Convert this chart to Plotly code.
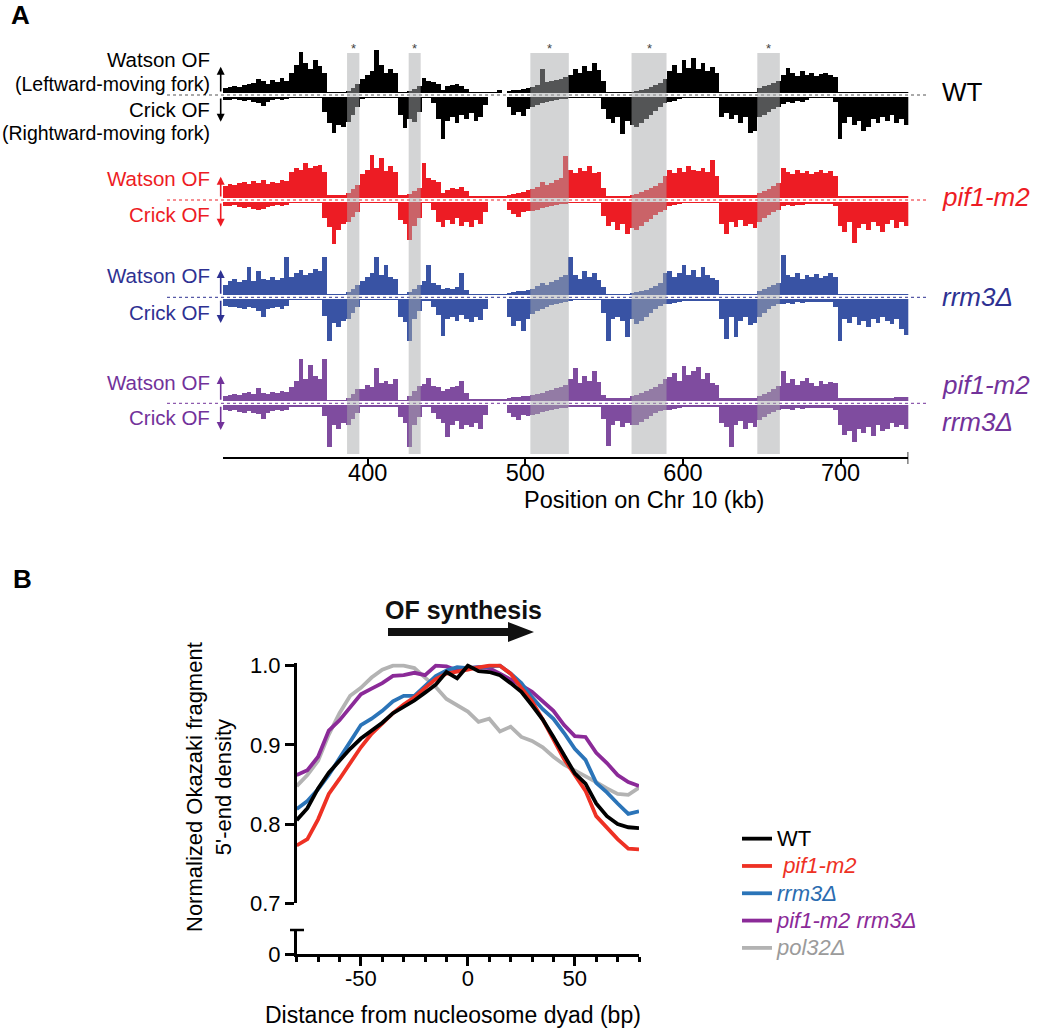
import plotly.graph_objects as go

FIG_W, FIG_H = 1050, 1029
FONT = "Liberation Sans, Arial, Helvetica, sans-serif"


def px(x):
    return x / FIG_W


def py(y):
    return 1 - y / FIG_H


# ---------------- Panel A data (Okazaki fragment density, 3-kb bins from 308 kb) ----------------
bin_start_kb = 308
bin_width_kb = 3

wt_watson = [5, 6, 7, 6, 8, 9, 10, 14, 12, 9, 13, 11, 15, 12,
             20, 28, 41, 30, 24, 33, 27, 20,
             1, 1, 1, 1,
             2, 5, 9,
             14, 18, 22, 43, 28, 20, 24, 20,
             1, 1, 2, 4, 7,
             15, 12, 11, 9, 3, 7, 8, 9, 7, 4, 1, 1, 1, 1,
             1, 1, 3, 0,
             2, 3, 3, 4, 5,
             6, 8, 24, 11, 12, 13, 14, 16,
             18, 24, 20, 27, 22, 30, 23,
             12, 1, 1, 1, 1, 1, 1,
             2, 3, 4, 6, 8, 10, 14,
             22, 28, 20, 33, 25, 35, 24, 30, 22, 26, 20,
             1, 1, 1, 1, 1, 1, 1, 1,
             5, 7, 8, 10, 12,
             18, 25, 20, 17, 22, 18, 20, 17, 19, 20, 18, 16,
             1, 1, 1, 1, 1, 1, 1, 1, 1, 1, 1, 1, 1, 1, 1]
wt_crick = [3, 3, 2, 3, 4, 3, 5, 6, 9, 5, 3, 2, 3, 2,
            1, 1, 1, 1, 1, 1, 1, 15,
            26, 36, 28, 30,
            25, 18, 10,
            2, 1, 1, 1, 1, 1, 1, 1,
            18, 31, 22, 25, 15,
            1, 1, 6, 22, 42, 24, 20, 26, 18, 22, 16, 24, 20, 8,
            0, 0, 0, 0,
            10, 18, 15, 19, 12,
            10, 8, 6, 5, 4, 3, 2, 2,
            1, 1, 1, 1, 1, 1, 1,
            12, 22, 26, 20, 37, 24, 28,
            30, 26, 22, 18, 14, 10, 6,
            5, 4, 2, 1, 1, 1, 1, 1, 1, 1, 1,
            20, 16, 22, 18, 26, 20, 36, 34,
            20, 18, 15, 12, 10,
            7, 5, 6, 4, 5, 3, 1, 1, 1, 1, 1, 5,
            42, 26, 20, 28, 24, 34, 30, 22, 26, 20, 24, 18, 26, 22, 28]

pif1_watson = [12, 14, 13, 15, 16, 14, 17, 15, 18, 14, 16, 15, 18, 17,
               26, 30, 28, 35, 30, 32, 33, 26,
               3, 3, 3, 3,
               5, 9, 13,
               24, 28, 43, 30, 40, 27, 32, 26,
               3, 3, 4, 7, 10,
               35, 20, 18, 16, 5, 8, 10, 9, 11, 7, 2, 2, 2, 2,
               2, 2, 2, 2,
               3, 4, 5, 6, 8,
               9, 11, 16, 13, 15, 18, 20, 42,
               28, 25, 30, 27, 32, 25, 26,
               10, 2, 2, 2, 2, 2, 3,
               4, 6, 8, 10, 12, 15, 22,
               28, 25, 30, 26, 32, 28, 27, 30, 26, 38, 22,
               3, 3, 3, 3, 3, 3, 3, 3,
               5, 7, 9, 12, 15,
               30, 26, 24, 28, 25, 27, 24, 26, 28, 25, 27, 22,
               2, 2, 2, 2, 2, 2, 2, 2, 2, 2, 2, 2, 2, 2, 2]
pif1_crick = [4, 4, 3, 5, 6, 5, 7, 8, 7, 5, 4, 3, 4, 3,
              1, 1, 1, 1, 1, 1, 1, 16,
              25, 42, 28, 22,
              20, 15, 10,
              1, 1, 1, 1, 1, 1, 1, 1,
              18, 22, 38, 24, 16,
              1, 1, 8, 20, 25, 18, 22, 16, 24, 20, 25, 18, 22, 10,
              0, 0, 0, 0,
              8, 12, 15, 10, 9,
              9, 8, 6, 5, 4, 3, 2, 2,
              1, 1, 1, 1, 1, 1, 1,
              14, 24, 20, 28, 22, 32, 26,
              28, 24, 20, 17, 13, 10, 8,
              4, 3, 2, 1, 1, 1, 1, 1, 1, 1, 1,
              22, 32, 20, 25, 18, 24, 22, 26,
              20, 16, 13, 10, 8,
              4, 3, 4, 3, 3, 2, 2, 2, 2, 2, 2, 4,
              24, 30, 20, 41, 26, 22, 28, 20, 24, 30, 22, 18, 26, 20, 24]

rrm3_watson = [10, 14, 16, 13, 15, 28, 14, 24, 16, 15, 18, 15, 17, 38,
               18, 22, 25, 20, 22, 26, 24, 38,
               1, 1, 1, 1,
               3, 6, 10,
               14, 18, 22, 38, 20, 30, 18, 16,
               1, 1, 3, 6, 10,
               14, 30, 12, 10, 6, 7, 6, 8, 22, 5, 1, 1, 1, 1,
               1, 1, 1, 1,
               2, 3, 4, 4, 5,
               6, 9, 12, 10, 13, 15, 18, 20,
               38, 20, 16, 24, 18, 22, 15,
               8, 1, 1, 1, 1, 1, 2,
               3, 4, 5, 7, 9, 12, 22,
               24, 18, 22, 30, 20, 25, 18, 28, 20, 17, 15,
               1, 1, 1, 1, 1, 1, 1, 1,
               4, 6, 8, 10, 12,
               40, 20, 18, 22, 16, 20, 18, 21, 17, 19, 22, 18,
               1, 1, 1, 1, 1, 1, 1, 1, 1, 1, 1, 1, 1, 1, 1]
rrm3_crick = [7, 8, 8, 9, 10, 8, 9, 12, 18, 10, 9, 8, 10, 7,
              1, 1, 1, 1, 1, 1, 1, 17,
              42, 24, 28, 22,
              20, 14, 8,
              1, 1, 1, 1, 1, 1, 1, 1,
              18, 23, 42, 20, 12,
              2, 2, 8, 16, 37, 20, 18, 22, 16, 20, 23, 18, 21, 10,
              0, 0, 0, 0,
              18, 27, 22, 32, 20,
              15, 12, 10, 8, 6, 5, 4, 3,
              2, 1, 1, 1, 1, 1, 1,
              14, 42, 20, 18, 22, 38, 20,
              25, 22, 18, 14, 10, 7, 5,
              5, 4, 3, 2, 2, 2, 2, 2, 2, 2, 2,
              20, 40, 18, 38, 22, 18, 26, 24,
              18, 14, 10, 7, 5,
              5, 4, 5, 3, 4, 3, 3, 3, 3, 3, 3, 8,
              42, 20, 24, 18, 26, 22, 28, 20, 24, 18, 22, 25, 20, 30, 36]

double_watson = [5, 6, 7, 6, 8, 9, 7, 13, 8, 7, 9, 8, 10, 9,
                 14, 20, 42, 22, 36, 25, 22, 42,
                 1, 1, 1, 1,
                 3, 7, 12,
                 12, 16, 14, 33, 18, 20, 17, 22,
                 1, 1, 5, 10, 15,
                 17, 23, 15, 14, 10, 12, 14, 15, 20, 8, 2, 2, 2, 2,
                 2, 2, 2, 2,
                 3, 4, 4, 5, 5,
                 6, 7, 8, 10, 11, 13, 14, 16,
                 22, 33, 18, 25, 20, 30, 19,
                 6, 3, 3, 3, 3, 3, 5,
                 6, 8, 10, 12, 14, 17, 22,
                 24, 28, 20, 35, 26, 30, 34, 22, 28, 18, 16,
                 3, 3, 3, 3, 3, 3, 3, 3,
                 5, 7, 9, 12, 15,
                 30, 18, 22, 16, 20, 23, 18, 15, 20, 17, 19, 18,
                 3, 3, 3, 3, 3, 3, 3, 3, 3, 3, 3, 3, 4, 4, 4]
double_crick = [5, 6, 5, 7, 8, 6, 8, 9, 14, 8, 6, 5, 6, 5,
                2, 2, 2, 2, 2, 2, 2, 11,
                42, 20, 24, 18,
                20, 14, 8,
                2, 2, 2, 2, 2, 2, 2, 2,
                12, 18, 42, 20, 12,
                2, 2, 8, 14, 18, 32, 20, 16, 24, 20, 22, 18, 24, 10,
                0, 0, 0, 0,
                8, 12, 15, 10, 11,
                10, 9, 7, 6, 5, 4, 3, 3,
                2, 2, 2, 2, 2, 2, 2,
                14, 41, 20, 16, 22, 18, 20,
                20, 17, 14, 11, 8, 6, 5,
                5, 4, 3, 2, 2, 2, 2, 2, 2, 2, 2,
                18, 22, 42, 20, 16, 24, 18, 22,
                15, 12, 9, 7, 5,
                4, 4, 5, 3, 4, 3, 3, 3, 3, 3, 3, 5,
                20, 30, 26, 37, 24, 28, 22, 31, 20, 26, 24, 18, 22, 20, 24]

highlight_bands_kb = [(386.9, 394.7), (426.0, 433.6), (503.2, 527.6), (567.4, 589.6), (647.2, 661.5)]
chr_ticks_kb = [400, 500, 600, 700]

# ---------------- Panel B data ----------------
distance_bp = [-80, -75, -70, -65, -60, -55, -50, -45, -40, -35, -30, -25, -20, -15, -10, -5, 0,
               5, 10, 15, 20, 25, 30, 35, 40, 45, 50, 55, 60, 65, 70, 75, 80]
dens_wt = [0.805, 0.820, 0.845, 0.865, 0.880, 0.895, 0.908, 0.918, 0.928, 0.940, 0.948, 0.956, 0.966,
           0.976, 0.992, 0.984, 1.000, 0.993, 0.992, 0.988, 0.978, 0.967, 0.950, 0.932, 0.910, 0.886,
           0.864, 0.851, 0.826, 0.810, 0.800, 0.796, 0.795]
dens_pif1 = [0.773, 0.781, 0.806, 0.838, 0.857, 0.878, 0.897, 0.914, 0.927, 0.940, 0.951, 0.960, 0.972,
             0.983, 0.990, 0.992, 0.995, 0.998, 1.000, 1.000, 0.990, 0.972, 0.955, 0.932, 0.908, 0.882,
             0.862, 0.842, 0.810, 0.795, 0.781, 0.769, 0.768]
dens_rrm3 = [0.819, 0.829, 0.844, 0.862, 0.883, 0.905, 0.925, 0.933, 0.943, 0.955, 0.962, 0.962, 0.975,
             0.987, 0.994, 0.998, 0.997, 0.998, 1.000, 1.000, 0.990, 0.978, 0.960, 0.945, 0.933, 0.915,
             0.895, 0.881, 0.852, 0.840, 0.826, 0.813, 0.816]
dens_double = [0.862, 0.868, 0.885, 0.918, 0.931, 0.948, 0.964, 0.971, 0.978, 0.987, 0.988, 0.991, 0.988,
               1.000, 0.999, 0.994, 0.997, 0.998, 0.997, 0.990, 0.983, 0.975, 0.967, 0.955, 0.943, 0.925,
               0.911, 0.910, 0.890, 0.877, 0.862, 0.853, 0.848]
dens_pol32 = [0.848, 0.862, 0.880, 0.913, 0.940, 0.962, 0.972, 0.985, 0.995, 1.000, 1.000, 0.997, 0.985,
              0.973, 0.958, 0.950, 0.942, 0.929, 0.933, 0.917, 0.923, 0.910, 0.905, 0.897, 0.885, 0.875,
              0.868, 0.860, 0.853, 0.845, 0.838, 0.837, 0.846]
dyad_ticks_bp = [-50, 0, 50]
dyad_minor_bp = [-80, -70, -60, -40, -30, -20, -10, 10, 20, 30, 40, 60, 70, 80]

# ---------------- Build figure ----------------
fig = go.Figure()

tracks = [
    dict(watson=wt_watson, crick=wt_crick, color="#000000", text="#000000", base_px=95.0,
         dot="#555555", arrow=(66.7, 121.7)),
    dict(watson=pif1_watson, crick=pif1_crick, color="#ed1c24", text="#ed1c24", base_px=200.0,
         dot="#ed1c24", arrow=(176.7, 226.7)),
    dict(watson=rrm3_watson, crick=rrm3_crick, color="#3953a4", text="#2e3192", base_px=297.3,
         dot="#2e3192", arrow=(270.0, 323.0)),
    dict(watson=double_watson, crick=double_crick, color="#7f4c9f", text="#72329a", base_px=403.3,
         dot="#72329a", arrow=(376.0, 430.0)),
]

HALF = 48
GAP = 2
n_bins = max(len(t["watson"]) for t in tracks)
x_end = bin_start_kb + bin_width_kb * n_bins

layout_axes = {}
shapes = []
annotations = []

for k, t in enumerate(tracks):
    yname = "y" if k == 0 else f"y{k + 1}"
    ykey = "yaxis" if k == 0 else f"yaxis{k + 1}"
    w = t["watson"]
    c = t["crick"]
    xw = [bin_start_kb + bin_width_kb * (i + 0.5) for i in range(len(w))]
    xc = [bin_start_kb + bin_width_kb * (i + 0.5) for i in range(len(c))]
    fig.add_trace(go.Bar(x=xw, y=w, base=GAP, width=bin_width_kb, marker_color=t["color"],
                         marker_line_width=0, xaxis="x", yaxis=yname, showlegend=False,
                         hoverinfo="skip"))
    fig.add_trace(go.Bar(x=xc, y=[-v for v in c], base=-GAP, width=bin_width_kb,
                         marker_color=t["color"], marker_line_width=0, xaxis="x", yaxis=yname,
                         showlegend=False, hoverinfo="skip"))
    b = t["base_px"]
    layout_axes[ykey] = dict(domain=[py(b + HALF), py(b - HALF)], range=[-HALF, HALF],
                             visible=False, anchor="x", fixedrange=True)
    shapes.append(dict(type="line", xref="paper", yref=yname, x0=px(167), x1=px(926), y0=0, y1=0,
                       line=dict(color=t["dot"], width=1, dash="dot")))
    up, down = t["arrow"]
    annotations.append(dict(xref="paper", yref="paper", x=px(220.7), y=py(up), ax=0,
                            ay=(b - 2) - up, text="", showarrow=True, arrowhead=2,
                            arrowsize=1.0, arrowwidth=1.6, arrowcolor=t["text"]))
    annotations.append(dict(xref="paper", yref="paper", x=px(220.7), y=py(down), ax=0,
                            ay=(b + 2) - down, text="", showarrow=True, arrowhead=2,
                            arrowsize=1.0, arrowwidth=1.6, arrowcolor=t["text"]))

left_labels = [
    ("Watson OF", 60, "#000000", 20.5), ("(Leftward-moving fork)", 84, "#000000", 19.5),
    ("Crick OF", 109, "#000000", 20.5), ("(Rightward-moving fork)", 133, "#000000", 19.5),
    ("Watson OF", 178, "#ed1c24", 20.5), ("Crick OF", 215, "#ed1c24", 20.5),
    ("Watson OF", 275, "#2e3192", 20.5), ("Crick OF", 312, "#2e3192", 20.5),
    ("Watson OF", 382, "#72329a", 20.5), ("Crick OF", 418, "#72329a", 20.5),
]
for txt, yy, col, fs in left_labels:
    annotations.append(dict(xref="paper", yref="paper", x=px(212), y=py(yy), text=txt,
                            showarrow=False, xanchor="right", yanchor="middle",
                            font=dict(family=FONT, size=fs, color=col)))

right_labels = [
    ("WT", 92, "#000000"), ("<i>pif1-m2</i>", 197, "#ed1c24"),
    ("<i>rrm3Δ</i>", 297, "#2e3192"), ("<i>pif1-m2</i>", 385, "#72329a"),
    ("<i>rrm3Δ</i>", 422, "#72329a"),
]
for txt, yy, col in right_labels:
    annotations.append(dict(xref="paper", yref="paper", x=px(940), y=py(yy), text=txt,
                            showarrow=False, xanchor="left", yanchor="middle",
                            font=dict(family=FONT, size=26, color=col)))

for x0, x1 in highlight_bands_kb:
    shapes.append(dict(type="rect", xref="x", yref="paper", x0=x0, x1=x1, y0=py(454), y1=py(53),
                       fillcolor="rgb(168,170,172)", opacity=0.5, line=dict(width=0),
                       layer="above"))
    annotations.append(dict(xref="x", yref="paper", x=(x0 + x1) / 2, y=py(48), text="*",
                            showarrow=False, xanchor="center", yanchor="middle",
                            font=dict(family=FONT, size=13, color="#444444")))

shapes.append(dict(type="line", xref="x", yref="paper", x0=x_end, x1=x_end, y0=py(464), y1=py(452),
                   line=dict(color="black", width=1.5)))

annotations += [
    dict(xref="paper", yref="paper", x=px(20), y=py(15), text="<b>A</b>", showarrow=False,
         xanchor="center", yanchor="middle", font=dict(family=FONT, size=26, color="black")),
    dict(xref="paper", yref="paper", x=px(22), y=py(579), text="<b>B</b>", showarrow=False,
         xanchor="center", yanchor="middle", font=dict(family=FONT, size=26, color="black")),
    dict(xref="paper", yref="paper", x=px(644), y=py(500), text="Position on Chr 10 (kb)",
         showarrow=False, xanchor="center", yanchor="middle",
         font=dict(family=FONT, size=23.5, color="black")),
    dict(xref="paper", yref="paper", x=px(463), y=py(610), text="<b>OF synthesis</b>",
         showarrow=False, xanchor="center", yanchor="middle",
         font=dict(family=FONT, size=25, color="#111111")),
    dict(xref="paper", yref="paper", x=px(209), y=py(787),
         text="Normalized Okazaki fragment<br>5'-end density", textangle=-90,
         showarrow=False, xanchor="center", yanchor="middle",
         font=dict(family=FONT, size=22, color="black")),
    dict(xref="paper", yref="paper", x=px(453), y=py(1015),
         text="Distance from nucleosome dyad (bp)", showarrow=False, xanchor="center",
         yanchor="middle", font=dict(family=FONT, size=23, color="black")),
]

arrow_path = (f"M {px(388)},{py(628)} L {px(508)},{py(628)} L {px(508)},{py(622)} "
              f"L {px(534)},{py(632)} L {px(508)},{py(642)} L {px(508)},{py(636)} "
              f"L {px(388)},{py(636)} Z")
shapes.append(dict(type="path", xref="paper", yref="paper", path=arrow_path,
                   fillcolor="#111111", line=dict(width=0)))

shapes.append(dict(type="line", xref="paper", yref="paper", x0=px(290), x1=px(304),
                   y0=py(930), y1=py(930), line=dict(color="black", width=2.5)))

LEG = "font-size:22px;"
series_b = [
    (f"<span style='{LEG}color:#9b9b9b'><i>pol32Δ</i></span>", dens_pol32, "#b3b3b3", 5),
    (f"<span style='{LEG}color:#8b2a98'><i>pif1-m2 rrm3Δ</i></span>", dens_double, "#8b2a98", 4),
    (f"<span style='{LEG}color:#2b6cb0'><i>rrm3Δ</i></span>", dens_rrm3, "#2b74b8", 3),
    (f"<span style='{LEG}color:#ee3124'> <i>pif1-m2</i></span>", dens_pif1, "#ee3124", 2),
    (f"<span style='{LEG}color:#000000'>WT</span>", dens_wt, "#000000", 1),
]
for name, vals, col, rank in series_b:
    fig.add_trace(go.Scatter(x=distance_bp, y=vals, mode="lines", name=name,
                             line=dict(color=col, width=3.8), xaxis="x2", yaxis="y5",
                             legendrank=rank, hoverinfo="skip"))
fig.add_trace(go.Scatter(x=[], y=[], xaxis="x2", yaxis="y6", showlegend=False))

fig.update_layout(
    width=FIG_W, height=FIG_H, template="none",
    paper_bgcolor="white", plot_bgcolor="rgba(0,0,0,0)",
    margin=dict(l=0, r=0, t=0, b=0),
    barmode="overlay", bargap=0,
    font=dict(family=FONT, color="black"),
    showlegend=True,
    legend=dict(x=px(737), y=py(820), xanchor="left", yanchor="top",
                font=dict(family=FONT, size=18.7, color="black"), bgcolor="rgba(0,0,0,0)",
                tracegroupgap=0, itemwidth=30),
    xaxis=dict(domain=[px(222.7), px(908.3)], range=[bin_start_kb, x_end], anchor="free",
               position=py(458.3), showline=True, linecolor="black", linewidth=1.5,
               ticks="outside", ticklen=6, tickwidth=1.5, tickcolor="black",
               tickmode="array", tickvals=chr_ticks_kb, ticktext=[str(v) for v in chr_ticks_kb],
               ticklabelstandoff=-12,
               tickfont=dict(family=FONT, size=23.5, color="black"), showgrid=False,
               zeroline=False, fixedrange=True),
    xaxis2=dict(domain=[px(296.7), px(639)], range=[-80, 80], anchor="y6", showline=True,
                linecolor="black", linewidth=2.5, ticks="outside", ticklen=9, tickwidth=2.5,
                tickcolor="black", tickmode="array", tickvals=dyad_ticks_bp,
                ticktext=[str(v) for v in dyad_ticks_bp], ticklabelstandoff=-6,
                minor=dict(ticks="outside", ticklen=5, tickwidth=2.5, tickcolor="black",
                           tickmode="array", tickvals=dyad_minor_bp, showgrid=False),
                tickfont=dict(family=FONT, size=22, color="black"), showgrid=False,
                zeroline=False),
    yaxis5=dict(domain=[py(903.3), py(663.3)], range=[0.7, 1.003], anchor="x2", showline=True,
                linecolor="black", linewidth=2.5, ticks="outside", ticklen=9, tickwidth=2.5,
                tickcolor="black", tickmode="array", tickvals=[0.7, 0.8, 0.9, 1.0],
                ticktext=["0.7", "0.8", "0.9", "1.0"],
                tickfont=dict(family=FONT, size=22, color="black"), showgrid=False,
                zeroline=False),
    yaxis6=dict(domain=[py(954.3), py(930)], range=[0, 0.03], anchor="x2", showline=True,
                linecolor="black", linewidth=2.5, ticks="outside", ticklen=9, tickwidth=2.5,
                tickcolor="black", tickmode="array", tickvals=[0], ticktext=["0"],
                tickfont=dict(family=FONT, size=22, color="black"), showgrid=False,
                zeroline=False),
    shapes=shapes,
    annotations=annotations,
)
fig.update_layout(**layout_axes)

fig.write_html("out.html", config={"displayModeBar": False},
               post_script="document.body.style.margin='0px';document.body.style.overflow='hidden';")
